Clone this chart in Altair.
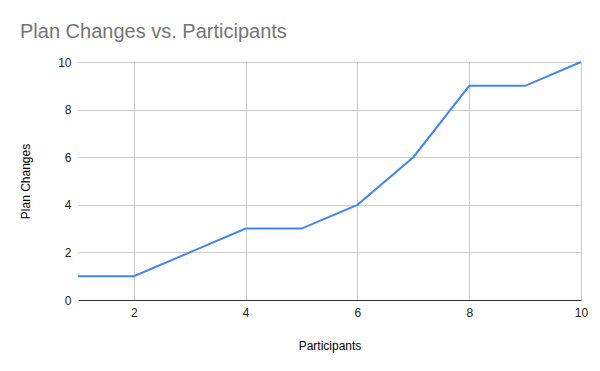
import altair as alt
import pandas as pd

participants = [1, 2, 3, 4, 5, 6, 7, 8, 9, 10]
plan_changes = [1, 1, 2, 3, 3, 4, 6, 9, 9, 10]

df = pd.DataFrame({"Participants": participants, "Plan Changes": plan_changes})

chart = alt.Chart(df).mark_line(color="#4285F4", strokeWidth=2).encode(
    x=alt.X("Participants:Q",
            scale=alt.Scale(domain=[1, 10], nice=False, zero=False),
            axis=alt.Axis(values=[2, 4, 6, 8, 10], format="d", ticks=False,
                          labelFlush=False,
                          domainColor="#333333", domainWidth=1,
                          gridColor="#cccccc", labelColor="#222222",
                          labelFontSize=12, labelPadding=7,
                          titleFontSize=12, titleFontWeight="normal",
                          titleColor="#000000", titlePadding=22,
                          labelFont="Liberation Sans", titleFont="Liberation Sans")),
    y=alt.Y("Plan Changes:Q",
            scale=alt.Scale(domain=[0, 10], nice=False),
            axis=alt.Axis(values=[0, 2, 4, 6, 8, 10], format="d", ticks=False,
                          labelFlush=False,
                          domain=False, gridColor="#cccccc", labelColor="#222222",
                          labelFontSize=12, labelPadding=7,
                          titleFontSize=12, titleFontWeight="normal",
                          titleColor="#000000", titlePadding=25,
                          labelFont="Liberation Sans", titleFont="Liberation Sans")),
).properties(
    width=503,
    height=238,
    autosize=alt.AutoSizeParams(type="none"),
    padding={"left": 70, "top": 54, "right": 11, "bottom": 63},
    title=alt.TitleParams("Plan Changes vs. Participants", anchor="start",
                          frame="group", dx=-58, offset=14,
                          fontSize=20, fontWeight="normal", color="#757575",
                          font="Liberation Sans"),
).configure_view(stroke=None)

chart.save("out.html", embed_options={"renderer": "svg", "actions": False})
